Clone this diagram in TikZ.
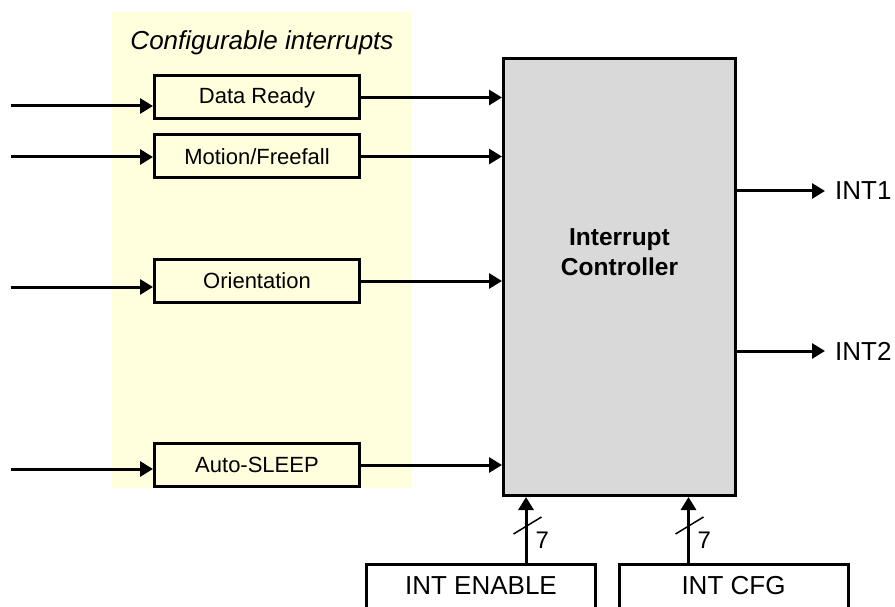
\documentclass[tikz,border=0pt]{standalone}
\usepackage{fontspec}
\setmainfont{Liberation Sans}
\usetikzlibrary{arrows.meta}
\definecolor{cfgyellow}{RGB}{255,255,221}
\definecolor{ctrlgray}{RGB}{217,217,217}
\tikzset{
	srcbox/.style={draw,line width=3pt,minimum width=205pt,minimum height=43pt,inner sep=0pt,font=\fontsize{22}{26}\selectfont},
	regbox/.style={draw,line width=3pt,minimum width=229pt,minimum height=70pt,inner sep=0pt},
	regtext/.style={inner sep=0pt,font=\fontsize{26}{30}\selectfont},
	wire/.style={line width=3pt,-{Triangle[length=13pt,width=15pt]}},
}
\begin{document}
\begin{tikzpicture}[x=1pt,y=-1pt]
		\clip (0,0) rectangle (895,607);
		\fill[cfgyellow] (112,12) rectangle (412,488);
		\node[anchor=base,inner sep=0pt,font=\itshape\fontsize{26}{30}\selectfont] (title) at (262,50) {Configurable interrupts};
		\node[srcbox] (dr) at (257,97.5) {Data Ready};
		\node[srcbox] (mf) at (257,156.5) {Motion/Freefall};
		\node[srcbox] (or) at (257,281) {Orientation};
		\node[srcbox] (as) at (257,465) {Auto-SLEEP};
		\node[draw,fill=ctrlgray,line width=3pt,minimum width=232pt,minimum height=437pt] (ctrl) at (619.5,277) {};
		\node[align=center,font=\bfseries\fontsize{24.5}{30}\selectfont] (ctrltxt) at ([yshift=24.5]ctrl.center) {Interrupt\\Controller};
		\node[regbox] (en) at (481,599) {};
		\node[regbox] (cfg) at (733.5,599) {};
		\node[regtext] (entxt) at (481,586) {INT ENABLE};
		\node[regtext] (cfgtxt) at (733.5,586) {INT CFG};
		\node[anchor=west,inner xsep=10pt,inner ysep=0pt,font=\fontsize{26}{30}\selectfont] (int1) at (825,191) {INT1};
		\node[anchor=west,inner xsep=10pt,inner ysep=0pt,font=\fontsize{26}{30}\selectfont] (int2) at (825,351) {INT2};
		\coordinate (in1) at (11,106);
		\coordinate (in2) at (11,157);
		\coordinate (in3) at (11,287);
		\coordinate (in4) at (11,469);
		\draw[wire] (in1) -- (in1 -| dr.west);
		\draw[wire] (in2) -- (in2 -| mf.west);
		\draw[wire] (in3) -- (in3 -| or.west);
		\draw[wire] (in4) -- (in4 -| as.west);
		\draw[wire] (dr.east) -- (dr.east -| ctrl.west);
		\draw[wire] (mf.east) -- (mf.east -| ctrl.west);
		\draw[wire] (or.east) -- (or.east -| ctrl.west);
		\draw[wire] (as.east) -- (as.east -| ctrl.west);
		\draw[wire] (int1.west -| ctrl.east) -- (int1.west);
		\draw[wire] (int2.west -| ctrl.east) -- (int2.west);
		\draw[wire] ([xshift=45]en.north) -- ([xshift=45]en.north |- ctrl.south);
		\draw[wire] ([xshift=-45]cfg.north) -- ([xshift=-45]cfg.north |- ctrl.south);
		\coordinate (s1) at ([xshift=46.5,yshift=37.5]en.north);
		\coordinate (s2) at ([xshift=-44,yshift=37.5]cfg.north);
		\draw[line width=1.5pt] ([shift={(-14,9)}]s1) -- ([shift={(14,-8)}]s1);
		\draw[line width=1.5pt] ([shift={(-14,9)}]s2) -- ([shift={(14,-8)}]s2);
		\node[anchor=base west,inner sep=0pt,font=\fontsize{24}{28}\selectfont] (w1) at ([shift={(8,23.5)}]s1) {7};
		\node[anchor=base west,inner sep=0pt,font=\fontsize{24}{28}\selectfont] (w2) at ([shift={(8,23.5)}]s2) {7};
	\end{tikzpicture}
\end{document}
